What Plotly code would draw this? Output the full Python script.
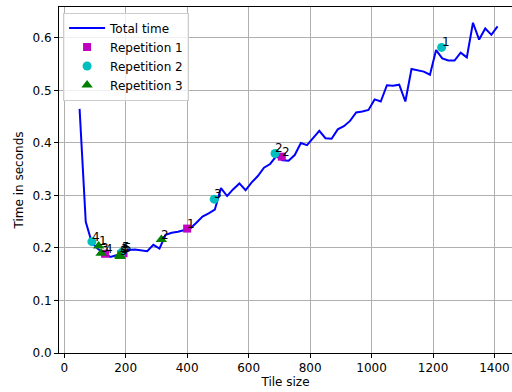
import plotly.graph_objects as go

# Total time per tile size
tile_sizes = [50, 70, 90, 110, 130, 150, 170, 190, 210, 230, 250, 270, 290, 310,
              330, 350, 370, 390, 410, 430, 450, 470, 490, 510, 530, 550, 570, 590,
              610, 630, 650, 670, 690, 710, 730, 750, 770, 790, 810, 830, 850, 870,
              890, 910, 930, 950, 970, 990, 1010, 1030, 1050, 1070, 1090, 1110,
              1130, 1150, 1170, 1190, 1210, 1230, 1250, 1270, 1290, 1310, 1330,
              1350, 1370, 1390, 1410]
total_time = [0.465, 0.250, 0.210, 0.198, 0.190, 0.183, 0.186, 0.191, 0.196, 0.197,
              0.196, 0.194, 0.206, 0.199, 0.225, 0.229, 0.231, 0.234, 0.237, 0.248,
              0.260, 0.266, 0.273, 0.314, 0.299, 0.312, 0.323, 0.310, 0.325, 0.337,
              0.353, 0.360, 0.375, 0.367, 0.366, 0.377, 0.400, 0.396, 0.409, 0.423,
              0.409, 0.408, 0.426, 0.432, 0.442, 0.458, 0.460, 0.463, 0.483, 0.479,
              0.510, 0.509, 0.511, 0.479, 0.541, 0.538, 0.536, 0.530, 0.577, 0.561,
              0.557, 0.557, 0.572, 0.563, 0.629, 0.597, 0.618, 0.606, 0.622]

# Sampled points of each repetition, in evaluation order
rep1_x = [400, 708, 185, 133, 193]
rep1_y = [0.237, 0.374, 0.188, 0.189, 0.190]
rep2_x = [1228, 686, 488, 90, 188]
rep2_y = [0.582, 0.380, 0.293, 0.212, 0.192]
rep3_x = [112, 316, 120, 180, 182]
rep3_y = [0.204, 0.216, 0.190, 0.186, 0.184]
order_labels = ["1", "2", "3", "4", "5"]

x_ticks = [0, 200, 400, 600, 800, 1000, 1200, 1400]
y_ticks = [0.0, 0.1, 0.2, 0.3, 0.4, 0.5, 0.6]
y_tick_text = ["0.0", "0.1", "0.2", "0.3", "0.4", "0.5", "0.6"]

FONT = "DejaVu Sans"
FS = 12

fig = go.Figure()
fig.add_trace(go.Scatter(x=tile_sizes, y=total_time, mode="lines", name="Total time",
                         line=dict(color="#0000ff", width=2)))
reps = [
    ("Repetition 1", rep1_x, rep1_y, "#bf00bf", "square", 8),
    ("Repetition 2", rep2_x, rep2_y, "#00bfbf", "circle", 9),
    ("Repetition 3", rep3_x, rep3_y, "#008000", "triangle-up", 10),
]
annotations = []
for name, xs, ys, color, symbol, size in reps:
    fig.add_trace(go.Scatter(x=xs, y=ys, mode="markers", name=name,
                             marker=dict(color=color, symbol=symbol, size=size,
                                         line=dict(width=0))))
    for xv, yv, lab in zip(xs, ys, order_labels):
        annotations.append(dict(x=xv, y=yv, text=lab, showarrow=False,
                                xanchor="left", yanchor="bottom",
                                xshift=-2, yshift=-4,
                                font=dict(family=FONT, size=FS, color="black")))

fig.update_layout(
    width=512, height=392,
    margin=dict(l=59, r=0, t=7, b=39),
    plot_bgcolor="white", paper_bgcolor="white",
    font=dict(family=FONT, size=FS, color="black"),
    annotations=annotations,
    showlegend=True,
    legend=dict(x=0.009, y=0.984, xanchor="left", yanchor="top",
                bgcolor="rgba(255,255,255,0.8)", bordercolor="#cccccc", borderwidth=1,
                font=dict(family=FONT, size=FS), tracegroupgap=0,
                itemwidth=36),
)
fig.update_xaxes(range=[-17, 1457], tickvals=x_ticks, ticks="outside", ticklen=4,
                 tickcolor="black", showline=True, linecolor="black", linewidth=1,
                 mirror=True, showgrid=True, gridcolor="#b0b0b0", gridwidth=1,
                 zeroline=False, title=dict(text="Tile size", standoff=1,
                                            font=dict(family=FONT, size=FS)))
fig.update_yaxes(range=[0, 0.659], tickvals=y_ticks, ticktext=y_tick_text,
                 ticks="outside", ticklen=4, tickcolor="black", showline=True,
                 linecolor="black", linewidth=1, mirror=False, showgrid=True,
                 gridcolor="#b0b0b0", gridwidth=1, zeroline=False,
                 title=dict(text="Time in seconds", standoff=6,
                            font=dict(family=FONT, size=FS)))

fig.write_html("out.html")
